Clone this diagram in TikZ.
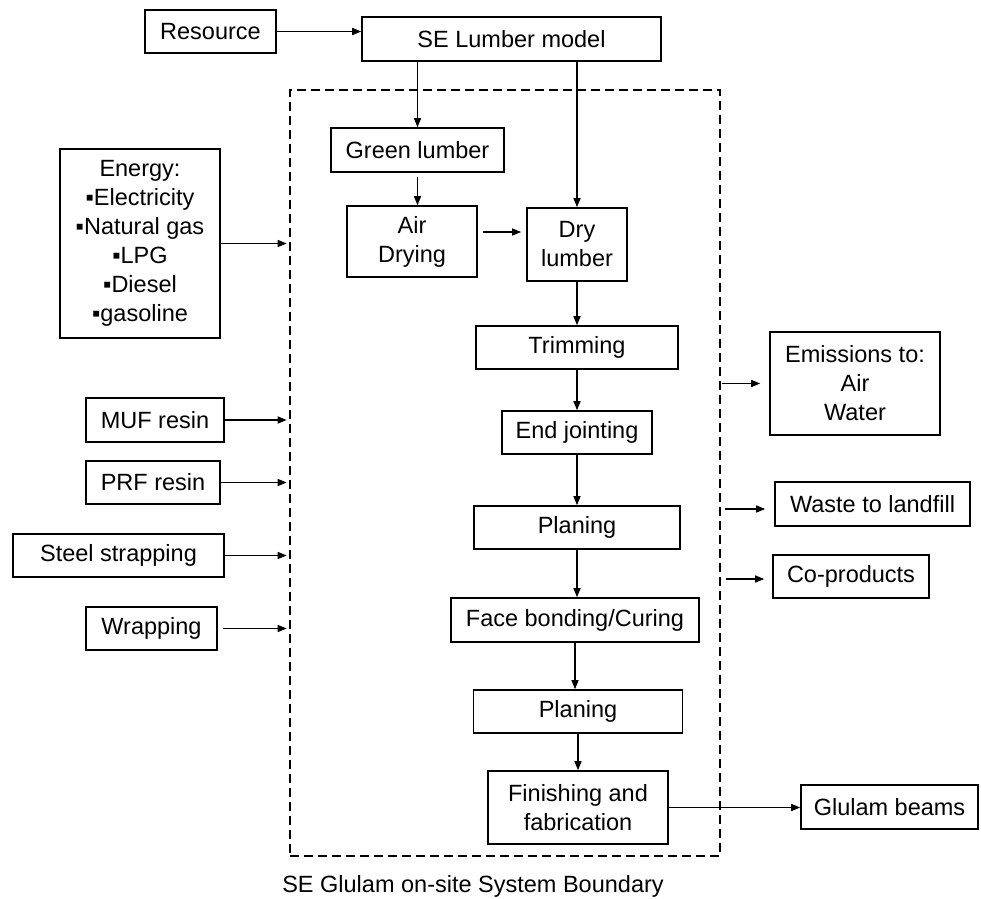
\documentclass[tikz,border=0pt]{standalone}
\usepackage{fontspec}
\setmainfont{Liberation Sans}
\usetikzlibrary{arrows.meta,calc}
\begin{document}
\begin{tikzpicture}[x=1pt,y=-1pt,
  txt/.style={font=\fontsize{23.5}{29}\selectfont},
  box/.style={draw, line width=1.6pt, inner sep=0pt, align=center, txt},
  arr/.style={-{Triangle[length=9pt,width=7pt]}, line width=1.4pt},
  bndry/.style={draw, line width=2.6pt, dash pattern=on 9pt off 5pt, inner sep=0pt}]
\useasboundingbox (0,0) rectangle (981,898);
% boundary
\node[bndry, minimum width=430pt, minimum height=766pt] (bd) at (505,473) {};
% top
\node[box, minimum width=131pt, minimum height=43pt] (res) at (210.5,31.5) {Resource};
\node[box, minimum width=299pt, minimum height=44pt] (selm) at (511.5,39) {SE Lumber model};
% process
\node[box, minimum width=173pt, minimum height=44pt] (green) at (417.5,150) {Green lumber};
\node[box, minimum width=130pt, minimum height=71pt] (air) at (412,241.5) {Air\\Drying};
\node[box, minimum width=100pt, minimum height=73pt] (dry) at (577,244.5) {Dry\\lumber};
\node[box, minimum width=202pt, minimum height=43pt] (trim) at (577,347.5) {Trimming};
\node[box, minimum width=150pt, minimum height=43pt] (endj) at (577,432.5) {End jointing};
\node[box, minimum width=206pt, minimum height=43pt] (plan1) at (577,527.5) {Planing};
\node[box, minimum width=248pt, minimum height=44pt] (face) at (575,620) {Face bonding/Curing};
\node[box, minimum width=209pt, minimum height=43pt] (plan2) at (578,711.5) {Planing};
\node[box, minimum width=180pt, minimum height=73pt] (fin) at (578,807.5) {Finishing and\\fabrication};
% inputs
\node[box, minimum width=160pt, minimum height=189pt] (energy) at (140,243.5) {Energy:\\▪Electricity\\▪Natural gas\\▪LPG\\▪Diesel\\▪gasoline};
\node[box, minimum width=138pt, minimum height=44pt] (muf) at (155,420) {MUF resin};
\node[box, minimum width=134pt, minimum height=43pt] (prf) at (153,482.5) {PRF resin};
\node[box, minimum width=211pt, minimum height=43pt] (steel) at (118.5,555.5) {Steel strapping};
\node[box, minimum width=131pt, minimum height=43pt] (wrap) at (151.5,628.5) {Wrapping};
% outputs
\node[box, minimum width=170pt, minimum height=103pt] (emis) at (855,383.5) {Emissions to:\\Air\\Water};
\node[box, minimum width=195pt, minimum height=44pt] (waste) at (872.5,504) {Waste to landfill};
\node[box, minimum width=156pt, minimum height=43pt] (cop) at (851,576.5) {Co-products};
\node[box, minimum width=177pt, minimum height=44pt] (glu) at (889.5,807) {Glulam beams};
% caption
\node[txt] (cap) at (473,886) {SE Glulam on-site System Boundary};
% connectors
\draw[arr] (res.east) -- (res.east -| selm.west);
\draw[arr] (green.north |- selm.south) -- (green.north);
\draw[arr] (dry.north |- selm.south) -- (dry.north);
\draw[arr, shorten <=4pt] (green.south) -- (green.south |- air.north);
\coordinate (ad) at ($(air.east)+(0,-9.5)$);
\draw[arr, shorten <=5pt, shorten >=5pt] (ad) -- (ad -| dry.west);
\draw[arr] (dry.south) -- (dry.south |- trim.north);
\draw[arr] (trim.south) -- (trim.south |- endj.north);
\draw[arr] (endj.south) -- (endj.south |- plan1.north);
\draw[arr] (plan1.south) -- (plan1.south |- face.north);
\draw[arr] (face.south) -- (face.south |- plan2.north);
\draw[arr] (plan2.south) -- (plan2.south |- fin.north);
\draw[arr] (fin.east) -- (fin.east -| glu.west);
% inputs to boundary
\draw[arr, shorten >=2pt] (energy.east) -- (energy.east -| bd.west);
\draw[arr, shorten >=2pt] (muf.east) -- (muf.east -| bd.west);
\draw[arr, shorten >=2pt] (prf.east) -- (prf.east -| bd.west);
\draw[arr, shorten >=2pt, shorten <=-2pt] (steel.east) -- (steel.east -| bd.west);
\draw[arr, shorten >=2pt, shorten <=5pt] (wrap.east) -- (wrap.east -| bd.west);
% outputs from boundary
\draw[arr, shorten <=1pt, shorten >=9pt] (emis.west -| bd.east) -- (emis.west);
\coordinate (wa) at ($(waste.west)+(0,5)$);
\draw[arr, shorten <=4pt, shorten >=9pt] (wa -| bd.east) -- (wa);
\coordinate (co) at ($(cop.west)+(0,2.5)$);
\draw[arr, shorten <=5pt, shorten >=8pt] (co -| bd.east) -- (co);
\end{tikzpicture}
\end{document}
